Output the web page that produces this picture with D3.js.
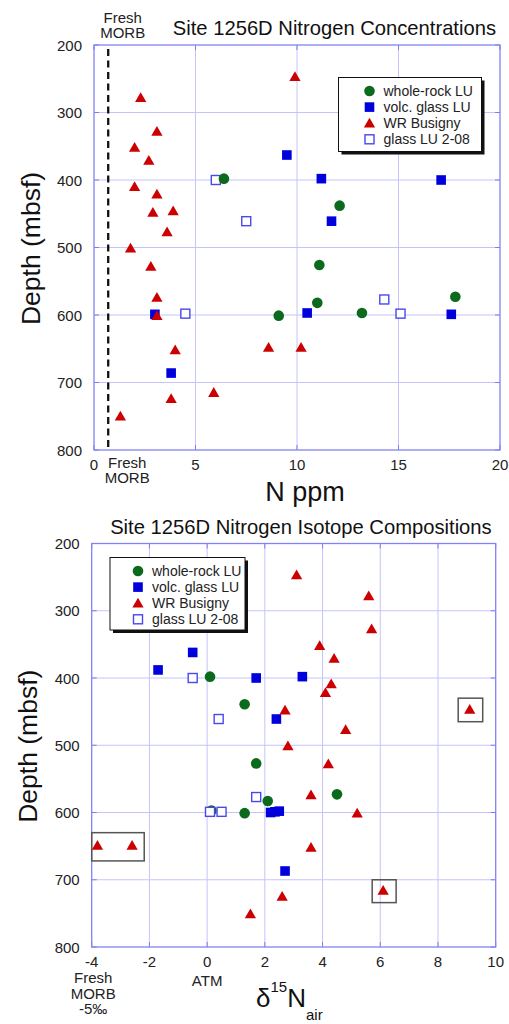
<!DOCTYPE html>
<html>
<head>
<meta charset="utf-8">
<script src="https://cdn.jsdelivr.net/npm/d3@7"></script>
<style>
  body { margin: 0; background: #fff; }
  svg text { font-family: "Liberation Sans", Arial, sans-serif; fill: #111; }
</style>
</head>
<body>
<div id="canvas"></div>
<script>
// ---- data: [x, depth (mbsf)] ----
// top panel, N ppm
var concWholeRock = [[6.4,398],[12.1,438],[11.1,526],[17.8,573],[11.0,582],[9.1,601],[13.2,597]];
var concVolcGlass = [[9.5,363],[11.2,398],[17.1,400],[11.7,461],[3.0,599],[10.5,597],[17.6,599],[3.8,686]];
var concBusigny = [[9.9,247],[2.3,278],[3.1,328],[2.0,352],[2.7,371],[2.0,410],[3.1,421],[2.9,448],[3.9,446],
  [3.6,477],[1.8,501],[2.8,528],[3.1,574],[3.1,601],[4.0,652],[8.6,648],[10.2,648],[5.9,715],[3.8,724],[1.3,750]];
var concGlass208 = [[6.0,400],[7.5,461],[14.3,577],[4.5,598],[15.1,598]];

// bottom panel, d15N air
var isoWholeRock = [[0.15,597],[0.1,398],[1.3,439],[1.7,527],[4.5,573],[2.1,583],[1.3,601]];
var isoVolcGlass = [[-0.5,362],[-1.7,388],[1.7,400],[3.3,398],[2.4,461],[2.2,600],[2.35,599],[2.5,598],[2.7,687]];
var isoBusigny = [[3.1,247],[5.6,278],[5.7,327],[3.9,352],[4.4,371],[4.3,409],[4.1,422],[2.7,448],[9.1,447],
  [4.8,477],[2.8,501],[4.2,528],[3.6,574],[5.2,601],[-3.8,649],[-2.6,649],[3.6,652],[6.1,716],[2.6,725],[1.5,751]];
var isoGlass208 = [[-0.5,400],[0.4,461],[1.7,577],[0.1,599],[0.5,599]];
// highlight boxes: [x0, x1, depth0, depth1]
var isoBoxes = [[8.7,9.55,430,465],[-4,-2.18,630,672],[5.72,6.55,700,734]];

var depthTicks = [200,300,400,500,600,700,800];
var concTicks = [0,5,10,15,20];
var isoTicks = [-4,-2,0,2,4,6,8,10];
var morbN = 0.7;

var legendNames = ['whole-rock LU','volc. glass LU','WR Busigny','glass LU 2-08'];

var green = '#0b6a1c', blue = '#0000dd', red = '#cc0000', openBlue = '#4848ee';

var svg = d3.select('#canvas').append('svg')
  .attr('width', 509).attr('height', 1024);

function marker(g, type) {
  if (type == 'circle') {
    g.append('circle').attr('r', 5.3).attr('fill', green);
  } else if (type == 'square') {
    g.append('rect').attr('x', -4.8).attr('y', -4.8).attr('width', 9.6).attr('height', 9.6).attr('fill', blue);
  } else if (type == 'triangle') {
    g.append('path').attr('d', d3.symbol().type(d3.symbolTriangle).size(55)()).attr('fill', red)
      .attr('transform', 'translate(0,1)');
  } else {
    g.append('rect').attr('x', -4.5).attr('y', -4.5).attr('width', 9).attr('height', 9)
      .attr('fill', '#fff').attr('stroke', openBlue).attr('stroke-width', 1.4);
  }
}

function panel(p) {
  var x = d3.scaleLinear().domain(p.xDomain).range([p.l, p.r]);
  var y = d3.scaleLinear().domain([200, 800]).range([p.t, p.b]);
  var g = svg.append('g');

  // grid
  g.selectAll('.vg').data(p.xTicks.slice(1, -1)).enter().append('line')
    .attr('x1', d => x(d)).attr('x2', d => x(d)).attr('y1', p.t).attr('y2', p.b)
    .attr('stroke', '#c4c4fb').attr('stroke-width', 1);
  g.selectAll('.hg').data(depthTicks.slice(1, -1)).enter().append('line')
    .attr('x1', p.l).attr('x2', p.r).attr('y1', d => y(d)).attr('y2', d => y(d))
    .attr('stroke', '#c4c4fb').attr('stroke-width', 1);
  // tick marks inside the frame
  g.selectAll('.ht').data(depthTicks).enter().append('path')
    .attr('d', d => 'M' + p.l + ',' + y(d) + 'h5M' + p.r + ',' + y(d) + 'h-5')
    .attr('stroke', '#7c7cf4').attr('stroke-width', 1);
  g.selectAll('.vt').data(p.xTicks).enter().append('path')
    .attr('d', d => 'M' + x(d) + ',' + p.t + 'v5M' + x(d) + ',' + p.b + 'v-5')
    .attr('stroke', '#7c7cf4').attr('stroke-width', 1);
  g.append('rect').attr('x', p.l).attr('y', p.t).attr('width', p.r - p.l).attr('height', p.b - p.t)
    .attr('fill', 'none').attr('stroke', '#8282f4').attr('stroke-width', 1.3);

  // tick labels
  g.selectAll('.yl').data(depthTicks).enter().append('text')
    .attr('x', p.l - 12).attr('y', d => y(d) + 5.5).attr('text-anchor', 'end')
    .style('font-size', '15px').style('fill', '#222').text(d => d);
  g.selectAll('.xl').data(p.xTicks).enter().append('text')
    .attr('x', d => x(d)).attr('y', p.b + 19.5).attr('text-anchor', 'middle')
    .style('font-size', '15px').style('fill', '#222').text(d => d);

  // axis titles
  g.append('text').attr('transform', 'translate(' + (p.l - 54.5) + ',' + ((p.t + p.b) / 2 + 1) + ') rotate(-90)')
    .attr('text-anchor', 'middle').style('font-size', '26.5px').text('Depth (mbsf)');
  g.append('text').attr('x', p.r - 4).attr('y', p.t - 10).attr('text-anchor', 'end')
    .style('font-size', '20.2px').text(p.title);

  if (p.extra) p.extra(g, x, y);

  // points
  p.layers.forEach(function(layer) {
    g.selectAll(null).data(layer.data).enter().append('g')
      .attr('transform', d => 'translate(' + x(d[0]) + ',' + y(d[1]) + ')')
      .each(function() { marker(d3.select(this), layer.type); });
  });

  // legend
  var lw = p.legend[2], lh = p.legend[3];
  var lg = g.append('g').attr('transform', 'translate(' + p.legend[0] + ',' + p.legend[1] + ')');
  lg.append('rect').attr('x', 3).attr('y', 3).attr('width', lw).attr('height', lh).attr('fill', '#111');
  lg.append('rect').attr('x', 0).attr('y', 0).attr('width', lw).attr('height', lh)
    .attr('fill', '#fff').attr('stroke', '#111').attr('stroke-width', 1);
  ['circle', 'square', 'triangle', 'open'].forEach(function(t, i) {
    var row = lg.append('g').attr('transform', 'translate(0,' + (13.5 + i * 16.1) + ')');
    marker(row.append('g').attr('transform', 'translate(' + p.legendMark + ',0)'), t);
    row.append('text').attr('x', p.legendMark + 14).attr('y', 5).style('font-size', '14px')
      .style('fill', '#222').text(legendNames[i]);
  });
}

// top: nitrogen concentrations
panel({
  l: 94, r: 500, t: 45, b: 450,
  xDomain: [0, 20], xTicks: concTicks,
  title: 'Site 1256D Nitrogen Concentrations',
  legend: [338.5, 77.5, 143, 74], legendMark: 31,
  layers: [
    {type: 'open', data: concGlass208},
    {type: 'circle', data: concWholeRock},
    {type: 'square', data: concVolcGlass},
    {type: 'triangle', data: concBusigny}
  ],
  extra: function(g, x, y) {
    g.append('line').attr('x1', x(morbN)).attr('x2', x(morbN)).attr('y1', y(200) + 4).attr('y2', y(800))
      .attr('stroke', '#111').attr('stroke-width', 2.3).attr('stroke-dasharray', '7,4.5');
    [['Fresh', 22.5], ['MORB', 37.5]].forEach(function(d) {
      g.append('text').attr('x', x(morbN) + 14.5).attr('y', d[1]).attr('text-anchor', 'middle')
        .style('font-size', '15px').style('fill', '#222').text(d[0]);
    });
    [['Fresh', 467.5], ['MORB', 483]].forEach(function(d) {
      g.append('text').attr('x', x(morbN) + 19).attr('y', d[1]).attr('text-anchor', 'middle')
        .style('font-size', '15px').style('fill', '#222').text(d[0]);
    });
    g.append('text').attr('x', 305).attr('y', 501).attr('text-anchor', 'middle')
      .style('font-size', '27px').text('N ppm');
  }
});

// bottom: nitrogen isotopes
panel({
  l: 91.7, r: 495.7, t: 543.5, b: 947,
  xDomain: [-4, 10], xTicks: isoTicks,
  title: 'Site 1256D Nitrogen Isotope Compositions',
  legend: [110, 557.5, 135, 72.5], legendMark: 28,
  layers: [
    {type: 'circle', data: isoWholeRock},
    {type: 'open', data: isoGlass208},
    {type: 'square', data: isoVolcGlass},
    {type: 'triangle', data: isoBusigny}
  ],
  extra: function(g, x, y) {
    g.selectAll('.box').data(isoBoxes).enter().append('rect')
      .attr('x', d => x(d[0])).attr('y', d => y(d[2]))
      .attr('width', d => x(d[1]) - x(d[0])).attr('height', d => y(d[3]) - y(d[2]))
      .attr('fill', 'none').attr('stroke', '#555').attr('stroke-width', 1.5);
    [['Fresh', 983], ['MORB', 998.5], ['-5\u2030', 1013.5]].forEach(function(d) {
      g.append('text').attr('x', x(-4) + 1.5).attr('y', d[1]).attr('text-anchor', 'middle')
        .style('font-size', '15px').style('fill', '#222').text(d[0]);
    });
    g.append('text').attr('x', x(0)).attr('y', 985.5).attr('text-anchor', 'middle')
      .style('font-size', '15px').style('fill', '#222').text('ATM');
    var lab = g.append('text').attr('x', 256).attr('y', 1007).style('font-size', '26px');
    lab.append('tspan').text('\u03b4');
    lab.append('tspan').attr('dy', -15).style('font-size', '15px').text('15');
    lab.append('tspan').attr('dy', 15).text('N');
    lab.append('tspan').attr('dy', 12.5).style('font-size', '15px').text('air');
  }
});
</script>
</body>
</html>
